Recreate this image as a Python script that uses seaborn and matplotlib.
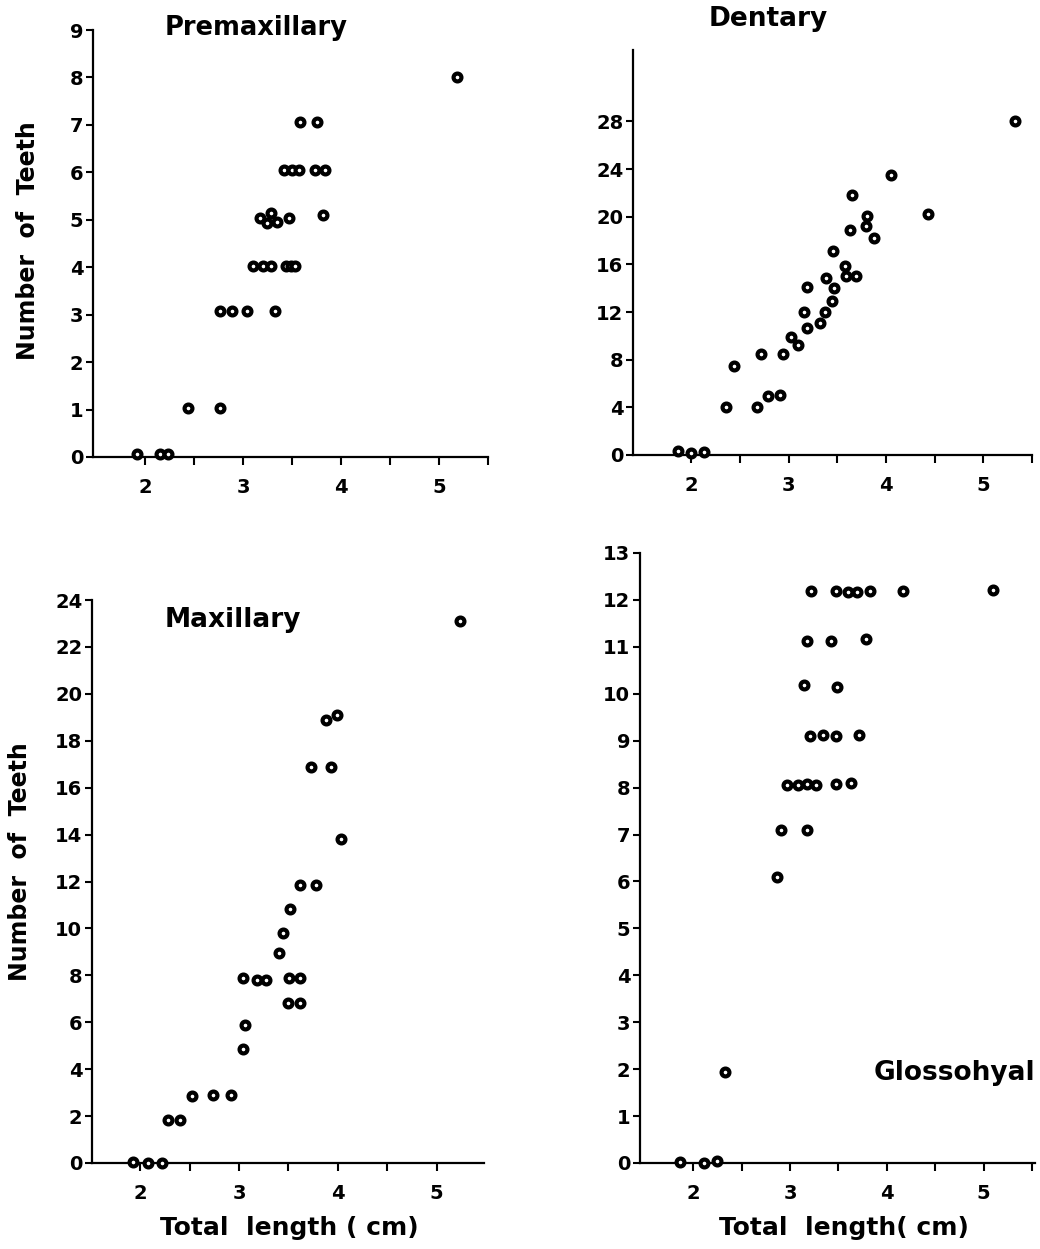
import numpy as np
import pandas as pd
import matplotlib
matplotlib.use("Agg")
import matplotlib.pyplot as plt
import seaborn as sns
from matplotlib.ticker import FixedLocator

# ---------------- data ----------------
pm_x = [1.92, 2.15, 2.24, 2.44, 2.77, 2.77, 2.89, 3.04, 3.33, 3.10, 3.20, 3.29, 3.44, 3.49, 3.53,
        3.17, 3.25, 3.29, 3.35, 3.47, 3.82, 3.42, 3.50, 3.57, 3.73, 3.84, 3.58, 3.76, 5.18]
pm_y = [0.06, 0.06, 0.06, 1.03, 1.03, 3.08, 3.08, 3.08, 3.08, 4.03, 4.03, 4.03, 4.03, 4.03, 4.03,
        5.03, 4.93, 5.14, 4.95, 5.03, 5.10, 6.04, 6.04, 6.04, 6.04, 6.04, 7.07, 7.07, 8.0]

de_x = [1.86, 2.00, 2.13, 2.36, 2.44, 2.67, 2.72, 2.79, 2.91, 2.94, 3.02, 3.10, 3.19, 3.16, 3.19,
        3.32, 3.37, 3.38, 3.44, 3.47, 3.46, 3.58, 3.59, 3.69, 3.63, 3.65, 3.80, 3.79, 3.88, 4.05,
        4.43, 5.33]
de_y = [0.3, 0.2, 0.25, 4.0, 7.5, 4.0, 8.5, 4.96, 5.04, 8.5, 9.94, 9.24, 14.1, 12.0, 10.7,
        11.1, 12.0, 14.85, 12.9, 14.0, 17.1, 15.9, 15.0, 15.0, 18.85, 21.85, 20.1, 19.2, 18.2, 23.5,
        20.2, 28.0]

mx_x = [1.93, 2.08, 2.22, 2.28, 2.40, 2.52, 2.74, 2.92, 3.04, 3.06, 3.04, 3.18, 3.27, 3.51,
        3.62, 3.49, 3.62, 3.40, 3.44, 3.52, 3.62, 3.78, 4.03, 3.73, 3.93, 3.88, 3.99, 5.24]
mx_y = [0.06, 0.0, 0.0, 1.83, 1.83, 2.86, 2.9, 2.9, 4.86, 5.88, 7.87, 7.8, 7.8, 7.87,
        7.87, 6.83, 6.83, 8.94, 9.79, 10.83, 11.85, 11.85, 13.8, 16.9, 16.9, 18.9, 19.1, 23.1]

gl_x = [1.86, 2.11, 2.25, 2.33, 2.86, 2.91, 3.17, 2.97, 3.08, 3.17, 3.27, 3.47, 3.63, 3.21,
        3.34, 3.47, 3.71, 3.14, 3.48, 3.18, 3.42, 3.78, 3.22, 3.47, 3.60, 3.69, 3.83, 4.17, 5.10]
gl_y = [0.03, 0.0, 0.05, 1.95, 6.09, 7.09, 7.09, 8.05, 8.05, 8.07, 8.05, 8.07, 8.1, 9.11,
        9.13, 9.09, 9.12, 10.19, 10.14, 11.13, 11.13, 11.16, 12.2, 12.18, 12.17, 12.17, 12.18, 12.2, 12.21]

panel_titles = ["Premaxillary", "Dentary", "Maxillary", "Glossohyal"]
y_ticks_pm = list(range(0, 10))
y_ticks_de = list(range(0, 29, 4))
y_ticks_mx = list(range(0, 25, 2))
y_ticks_gl = list(range(0, 14))
x_major = [2, 3, 4, 5]
x_minor = [2.5, 3.5, 4.5, 5.5]
y_label = "Number  of  Teeth"
x_label_left = "Total  length ( cm)"
x_label_right = "Total  length( cm)"

# ---------------- style ----------------
sns.set_style("ticks")
plt.rcParams["font.family"] = ["DejaVu Sans"]
plt.rcParams["font.weight"] = "bold"
plt.rcParams["text.color"] = "black"
plt.rcParams["axes.labelcolor"] = "black"

W, H = 1040, 1249
fig = plt.figure(figsize=(W / 100, H / 100), dpi=100)

def rect(left, right, bottom, top):
    return [left / W, (H - bottom) / H, (right - left) / W, (bottom - top) / H]

ax1 = fig.add_axes(rect(93, 488, 457, 30))
ax2 = fig.add_axes(rect(633, 1032, 455, 50))
ax3 = fig.add_axes(rect(92, 484, 1163, 600))
ax4 = fig.add_axes(rect(640, 1035, 1163, 553))

specs = [
    (ax1, pm_x, pm_y, (1.47, 5.5), (0, 9), y_ticks_pm),
    (ax2, de_x, de_y, (1.40, 5.5), (0, 34), y_ticks_de),
    (ax3, mx_x, mx_y, (1.51, 5.48), (0, 24), y_ticks_mx),
    (ax4, gl_x, gl_y, (1.45, 5.53), (0, 13), y_ticks_gl),
]

for ax, xs, ys, xl, yl, yt in specs:
    df = pd.DataFrame({"x": xs, "y": ys})
    sns.scatterplot(data=df, x="x", y="y", ax=ax, s=32, marker="o",
                    facecolor="white", edgecolor="black", linewidth=3.0,
                    clip_on=False, zorder=5)
    ax.set_xlim(*xl)
    ax.set_ylim(*yl)
    ax.xaxis.set_major_locator(FixedLocator(x_major))
    ax.xaxis.set_minor_locator(FixedLocator(x_minor))
    ax.yaxis.set_major_locator(FixedLocator(yt))
    ax.set_xticklabels([str(v) for v in x_major])
    ax.set_yticklabels([str(v) for v in yt])
    ax.set_xlabel("")
    ax.set_ylabel("")
    for side in ["top", "right"]:
        ax.spines[side].set_visible(False)
    for side in ["left", "bottom"]:
        ax.spines[side].set_linewidth(1.6)
        ax.spines[side].set_color("black")
    ax.tick_params(axis="both", which="both", direction="out", width=1.5,
                   color="black", labelcolor="black")
    ax.tick_params(axis="y", which="major", length=5, pad=2, labelsize=14)
    ax.tick_params(axis="x", which="major", length=6, pad=9, labelsize=14)
    ax.tick_params(axis="x", which="minor", length=6)
    for lab in ax.get_xticklabels() + ax.get_yticklabels():
        lab.set_fontweight("bold")
    ax.set_facecolor("white")

# titles
fig.text(165 / W, 1 - 28 / H, panel_titles[0], ha="left", va="center",
         fontsize=18.5, fontweight="heavy", color="black")
fig.text(768 / W, 1 - 19 / H, panel_titles[1], ha="center", va="center",
         fontsize=19, fontweight="heavy", color="black")
fig.text(165 / W, 1 - 620 / H, panel_titles[2], ha="left", va="center",
         fontsize=19, fontweight="heavy", color="black")
fig.text(1035 / W, 1 - 1073 / H, panel_titles[3], ha="right", va="center",
         fontsize=19, fontweight="bold", color="black")

# axis labels
fig.text(28 / W, 1 - 241 / H, y_label, rotation=90, ha="center", va="center",
         fontsize=17, fontweight="bold", color="black")
fig.text(20 / W, 1 - 862 / H, y_label, rotation=90, ha="center", va="center",
         fontsize=17, fontweight="bold", color="black")
fig.text(289 / W, 1 - 1228 / H, x_label_left, ha="center", va="center",
         fontsize=18, fontweight="bold", color="black")
fig.text(844 / W, 1 - 1228 / H, x_label_right, ha="center", va="center",
         fontsize=18, fontweight="bold", color="black")

fig.savefig("out.png", dpi=100, facecolor="white")
